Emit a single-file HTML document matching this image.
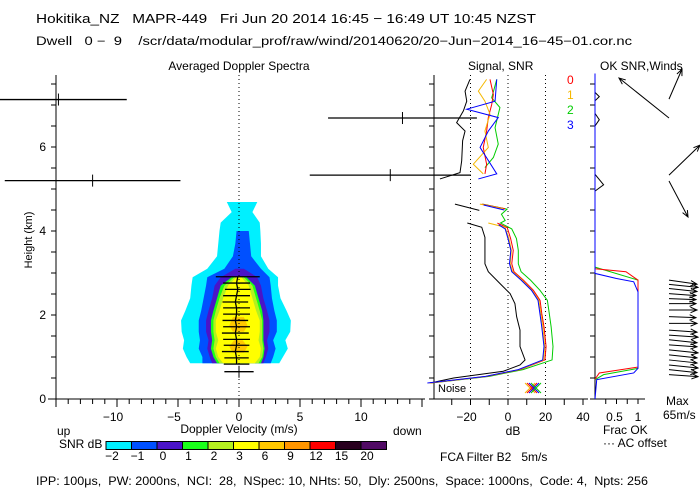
<!DOCTYPE html>
<html><head><meta charset="utf-8"><style>
html,body{margin:0;padding:0;background:#fff;}
svg{display:block;font-family:"Liberation Sans",sans-serif;}
text{font-size:12px;fill:#000;white-space:pre;}
</style></head><body>
<svg id="chart" width="700" height="500" viewBox="0 0 700 500" xmlns="http://www.w3.org/2000/svg" xml:space="preserve">
<rect width="700" height="500" fill="#fff"/>
<text x="36" y="23" textLength="500" lengthAdjust="spacingAndGlyphs" style="font-size:13px">Hokitika_NZ   MAPR-449   Fri Jun 20 2014 16:45 − 16:49 UT 10:45 NZST</text>
<text x="36" y="45" textLength="596" lengthAdjust="spacingAndGlyphs" style="font-size:11.5px">Dwell   0 −  9    /scr/data/modular_prof/raw/wind/20140620/20−Jun−2014_16−45−01.cor.nc</text>
<text x="239" y="70" text-anchor="middle">Averaged Doppler Spectra</text>
<text x="468" y="70">Signal, SNR</text>
<text x="600" y="70">OK SNR,Winds</text>
<text transform="translate(32,240) rotate(-90)" text-anchor="middle" style="font-size:11px">Height (km)</text>
<g id="spec"></g>
<g id="snr"></g>
<g id="wind"></g>
<text x="57" y="435">up</text>
<text x="239" y="433" text-anchor="middle">Doppler Velocity (m/s)</text>
<text x="393" y="435">down</text>
<text x="513" y="435" text-anchor="middle">dB</text>
<text x="603" y="434">Frac OK</text>
<text x="603" y="447">··· AC offset</text>
<text x="666" y="405">Max</text>
<text x="663" y="419">65m/s</text>
<text x="59" y="448">SNR dB</text>
<g id="cbar"></g>
<text x="440" y="461">FCA Filter B2   5m/s</text>
<text x="567" y="84" style="fill:#f00">0</text>
<text x="567" y="99" style="fill:#f5b800">1</text>
<text x="567" y="114" style="fill:#0c0">2</text>
<text x="567" y="129" style="fill:#00f">3</text>
<text x="438" y="392" style="font-size:11px">Noise</text>
<text x="36" y="485" textLength="612" lengthAdjust="spacingAndGlyphs" style="font-size:11.5px">IPP: 100μs,  PW: 2000ns,  NCI:  28,  NSpec: 10, NHts: 50,  Dly: 2500ns,  Space: 1000ns,  Code: 4,  Npts: 256</text>
</svg>
<script>
// ---------- data ----------
const specHeights = [0.85,1.0,1.2,1.4,1.6,1.87,2.1,2.4,2.7,2.9,3.1,3.4,3.7,4.0,4.2,4.45,4.69];
const cyanLo   = [-4.0,-4.3,-4.6,-4.5,-4.7,-4.75,-4.4,-4.0,-3.9,-3.8,-2.6,-1.8,-1.7,-1.6,-1.5,-0.6,-1.0];
const cyanHi   = [3.3,3.6,4.0,3.8,4.2,4.25,3.9,3.4,3.2,3.2,2.4,1.8,1.8,1.75,1.7,1.1,1.5];
const blueLo   = [-3.0,-3.0,-3.3,-3.2,-3.3,-3.3,-3.1,-2.9,-2.7,-2.6,-1.2,-0.5,-0.3,-0.2];
const blueHi   = [2.6,2.8,3.0,2.8,3.1,3.1,2.9,2.7,2.6,2.5,1.8,1.0,0.9,0.8];
const purpLo   = [-2.2,-2.4,-2.6,-2.5,-2.7,-2.7,-2.5,-2.2,-2.0,-1.5,-0.3];
const purpHi   = [2.0,2.2,2.4,2.3,2.5,2.5,2.3,2.0,1.8,1.5,0.4];
const greenLo  = [-1.8,-2.1,-2.3,-2.2,-2.3,-2.3,-2.1,-1.8,-1.5,-0.6];
const greenHi  = [1.8,2.0,2.1,2.0,2.0,2.0,1.9,1.6,1.3,0.6];
const lgreenLo = [-1.6,-1.9,-2.1,-2.0,-2.1,-2.1,-1.9,-1.6,-1.2,-0.4];
const lgreenHi = [1.6,1.9,2.0,1.9,1.9,1.9,1.7,1.4,1.1,0.4];
const yellowLo = [-1.3,-1.7,-1.9,-1.7,-1.9,-1.9,-1.6,-1.3,-0.9,-0.2];
const yellowHi = [1.3,1.7,1.8,1.6,1.7,1.7,1.4,1.1,0.8,0.2];
const orangeH  = [1.1,1.25,1.4,1.6,1.75,1.95];
const orangeLo = [-0.5,-0.8,-0.4,-0.5,-0.8,-0.5];
const orangeHi = [0.4,0.7,0.3,0.4,0.7,0.4];
const barH   = [0.65,0.83,0.98,1.13,1.28,1.42,1.57,1.72,1.87,2.02,2.17,2.31,2.46,2.61,2.76,2.91,5.2,7.13,6.69,5.33];
const barV   = [0.0,-0.2,-0.2,-0.3,-0.2,-0.2,-0.3,-0.2,-0.3,-0.2,-0.2,-0.3,-0.2,-0.1,-0.2,-0.1,-12.0,-14.8,13.4,12.4];
const barW   = [1.2,1.05,1.0,1.1,1.05,1.1,1.1,1.1,1.05,1.1,1.1,1.05,1.1,1.05,1.1,1.8,7.2,5.6,6.1,6.6];

const blackSeg1 = [[7.61,-20.3],[7.33,-22.9],[7.09,-22.0],[6.86,-23.8],[6.58,-27.4],[6.38,-22.9],[6.15,-24.2],[5.67,-24.7],[5.39,-25.6],[5.24,-36.3]];
const blackSeg2 = [[4.64,-28.3],[4.49,-15.3]];
const blackSeg3 = [[4.19,-21.7],[4.09,-14.0],[3.85,-12.3],[3.22,-12.3],[3.03,-10.5],[2.75,-4.3],[2.51,1.1],[2.27,3.7],[1.96,4.6],[1.64,6.4],[1.25,6.4],[0.93,9.1],[0.81,6.4],[0.66,-2.5],[0.50,-29],[0.38,-41.6]];
const redUp    = [[7.61,-9.6],[7.25,-7.8],[7.01,-8.7],[6.70,-10.5],[6.38,-11.4],[5.99,-13.2],[5.59,-11.4],[5.36,-12.3]];
const orangeUp = [[7.61,-11.4],[7.33,-15.8],[7.09,-12.3],[6.78,-9.6],[6.38,-12.3],[5.99,-10.5],[5.59,-18.5],[5.36,-13.2]];
const greenUp  = [[7.61,-6.0],[7.17,-8.7],[6.94,-4.3],[6.46,-6.9],[6.07,-5.2],[5.75,-7.8],[5.51,-12.3]];
const blueUp   = [[7.61,-6.0],[7.09,-6.9],[6.90,-22],[6.70,-5.2],[6.38,-10.5],[5.99,-14.9],[5.36,-6.0],[5.24,-15.8]];
const redA = [[4.64,-14.0],[4.53,-1.6]];
const orangeA = [[4.64,-15],[4.53,-2.5]];
const blueA = [[4.62,-13],[4.5,-2]];
const redLow    = [[4.19,-5.7],[4.08,-0.4],[3.82,1.4],[3.54,2.8],[3.22,2.0],[3.03,3.2],[2.83,8.2],[2.59,13.5],[2.35,17.1],[2.04,18.0],[1.72,19.2],[1.25,20.3],[0.93,19.7],[0.70,6.4],[0.54,-11.4],[0.38,-41.6]];
const orangeLow = [[4.19,-10.5],[4.09,-1.6],[3.82,0.5],[3.54,1.8],[3.22,1.2],[3.03,2.5],[2.83,7.6],[2.59,12.8],[2.35,16.5],[2.04,17.5],[1.72,18.6],[1.25,19.6],[0.93,19.0],[0.70,6.0],[0.54,-11.8],[0.38,-42]];
const blueLow   = [[4.15,-5],[4.05,-1.5],[3.82,0],[3.54,1.5],[3.22,0.8],[3.03,2.0],[2.83,7.0],[2.59,12.5],[2.35,16.0],[2.04,17.0],[1.72,18.0],[1.25,19.2],[0.93,18.5],[0.70,5.5],[0.54,-12],[0.38,-43]];
const greenLow  = [[4.64,-13.5],[4.52,-0.5],[4.40,-3.5],[4.25,-1.5],[4.19,-4],[4.05,2],[3.82,4.5],[3.54,5.5],[3.22,5.5],[3.03,7],[2.83,12],[2.59,17],[2.35,21],[2.04,22],[1.72,23],[1.25,24],[0.93,23.5],[0.70,8],[0.54,-10],[0.38,-41]];

const fracBlack = [[7.75,0],[7.3,0],[7.2,0.1],[7.1,0],[6.8,0],[6.65,0.1],[6.5,0],[5.35,0],[5.1,0.2],[4.95,0]];
const fracGreen = [[3.14,0],[2.83,1],[0.73,1],[0.58,0.2],[0.46,0]];
const fracRed   = [[3.10,0],[3.03,0.72],[2.83,1],[0.76,1],[0.62,0.1],[0.47,0]];
const fracBlue  = [[7.75,0],[2.99,0],[2.87,0.5],[2.79,0.9],[2.55,1],[0.73,1],[0.62,0.9],[0.46,0.04],[0.0,0]];
const windH = [7.14,6.69,5.33,5.19,2.83,2.73,2.63,2.51,2.39,2.27,2.12,1.96,1.80,1.64,1.52,1.41,1.29,1.17,1.05,0.93,0.81,0.70,0.58];
const windU = [13,-50,31,19,28,29,28,27,27,27,28,27,28,28,29,28,28,29,28,28,29,28,29];
const windV = [30,40,30,-36,-4,-3,-3,-2,-1,0,0,-1,0,-2,-2,-3,-2,-3,-3,-3,-3,-3,-2];

const cbarColors = ["#00f0ff","#0050ff","#4a14c8","#1aff1a","#b4f020","#ffff00","#ffc800","#ff9600","#ff0000","#28001e","#500a64"];
const cbarLabels = ["−2","−1","0","1","2","3","6","9","12","15","20"];
const vTickLabels = [-10,-5,0,5,10];
const hTickLabels = [0,2,4,6];
const dbTickLabels = [-20,0,20,40];

// ---------- scales ----------
const NS="http://www.w3.org/2000/svg";
const xv=v=>239+12.2*v, yh=h=>399-42*h, xdb=d=>508+1.875*d, xf=f=>595+43*f;
function mk(parent,tag,attrs){const e=document.createElementNS(NS,tag);for(const k in attrs)e.setAttribute(k,attrs[k]);parent.appendChild(e);return e;}
const spec=document.getElementById('spec'), snr=document.getElementById('snr'), wind=document.getElementById('wind'), cbar=document.getElementById('cbar');

function level(lo,hi,hs,color,name){
  const n=lo.length;let pts=[];
  for(let i=0;i<n;i++)pts.push(xv(hi[i])+','+yh(hs[i]));
  for(let i=n-1;i>=0;i--)pts.push(xv(lo[i])+','+yh(hs[i]));
  const p=mk(spec,'polygon',{points:pts.join(' '),fill:color});
  
  
}
level(cyanLo,cyanHi,specHeights,cbarColors[0],'snr-contour-minus2');
level(blueLo,blueHi,specHeights,cbarColors[1],'snr-contour-minus1');
level(purpLo,purpHi,specHeights,cbarColors[2],'snr-contour-0');
level(greenLo,greenHi,specHeights,cbarColors[3],'snr-contour-1');
level(lgreenLo,lgreenHi,specHeights,cbarColors[4],'snr-contour-2');
level(yellowLo,yellowHi,specHeights,cbarColors[5],'snr-contour-3');
level(orangeLo.slice(0,3),orangeHi.slice(0,3),orangeH.slice(0,3),cbarColors[6],'snr-contour-6-low');
level(orangeLo.slice(3),orangeHi.slice(3),orangeH.slice(3),cbarColors[6],'snr-contour-6-high');

let zl=mk(spec,'line',{x1:xv(0),y1:75,x2:xv(0),y2:399,stroke:'#000','stroke-dasharray':'1,3'});


let mp=[];for(let i=1;i<16;i++)mp.push(xv(barV[i])+','+yh(barH[i]));
let ml=mk(spec,'polyline',{points:mp.join(' '),fill:'none',stroke:'#000','stroke-width':1.3});


for(let i=0;i<barH.length;i++){
  const g=mk(spec,'g',{});
  
  
  const y=yh(barH[i]);
  mk(g,'line',{x1:xv(barV[i]-barW[i]),x2:xv(barV[i]+barW[i]),y1:y,y2:y,stroke:'#000','stroke-width':1.3});
  if(i==0||i>=16) mk(g,'line',{x1:xv(barV[i]),x2:xv(barV[i]),y1:y-6,y2:y+6,stroke:'#000'});
}
mk(spec,'line',{x1:56,y1:75,x2:56,y2:399,stroke:'#000'});
mk(spec,'line',{x1:48,y1:399,x2:425,y2:399,stroke:'#000'});
for(let k=0;k<=15;k++){const y=yh(k*0.5);mk(spec,'line',{x1:51,x2:56,y1:y,y2:y,stroke:'#000'});
  mk(snr,'line',{x1:429,x2:434,y1:y,y2:y,stroke:'#000'});mk(wind,'line',{x1:590,x2:595,y1:y,y2:y,stroke:'#000'});}
for(const h of hTickLabels){const t=mk(spec,'text',{x:46,y:yh(h)+4,'text-anchor':'end'});t.textContent=h;
  
  }
for(let v=-15;v<=15;v++){const x=xv(v);if(x<48||x>425)continue;mk(spec,'line',{x1:x,x2:x,y1:399,y2:v%5==0?407:404,stroke:'#000'});}
for(const v of vTickLabels){const t=mk(spec,'text',{x:xv(v)+(v<0?-4:0),y:421,'text-anchor':'middle'});t.textContent=v<0?'−'+(-v):v;
  
  }

for(const d of [-20,0,20]){let l=mk(snr,'line',{x1:xdb(d),x2:xdb(d),y1:75,y2:399,stroke:'#000','stroke-dasharray':'1,3'});
  
  }
mk(snr,'line',{x1:434,y1:75,x2:434,y2:399,stroke:'#000'});
mk(snr,'line',{x1:433,y1:399,x2:588,y2:399,stroke:'#000'});
for(let d=-30;d<=40;d+=10)mk(snr,'line',{x1:xdb(d),x2:xdb(d),y1:399,y2:405,stroke:'#000'});
for(const d of dbTickLabels){const t=mk(snr,'text',{x:xdb(d)+(d<0?-4:0),y:421,'text-anchor':'middle'});t.textContent=d<0?'−'+(-d):d;
  
  }
function series(g,arr,color,name,xf_){const p=mk(g,'polyline',{points:arr.map(a=>xf_(a[1])+','+yh(a[0])).join(' '),fill:'none',stroke:color,'stroke-width':1});
  
  }
series(snr,blackSeg1,'#000','signal-line',xdb);series(snr,blackSeg2,'#000','signal-line',xdb);series(snr,blackSeg3,'#000','signal-line',xdb);
series(snr,greenUp,'#0c0','snr-beam-2',xdb);series(snr,greenLow,'#0c0','snr-beam-2',xdb);
series(snr,redUp,'#f00','snr-beam-0',xdb);series(snr,redA,'#f00','snr-beam-0',xdb);series(snr,redLow,'#f00','snr-beam-0',xdb);
series(snr,orangeUp,'#f5b800','snr-beam-1',xdb);series(snr,orangeA,'#f5b800','snr-beam-1',xdb);series(snr,orangeLow,'#f5b800','snr-beam-1',xdb);
series(snr,blueUp,'#00f','snr-beam-3',xdb);series(snr,blueA,'#00f','snr-beam-3',xdb);series(snr,blueLow,'#00f','snr-beam-3',xdb);
[['#f5b800',-3],['#f00',-1],['#00f',1],['#0c0',3]].forEach(c=>{const x=533+c[1],y=388;
  const p=mk(snr,'path',{d:`M${x-5},${y-5}L${x+5},${y+5}M${x-5},${y+5}L${x+5},${y-5}`,stroke:c[0],fill:'none'});
  
  });

mk(wind,'line',{x1:595,y1:75,x2:595,y2:399,stroke:'#000'});
mk(wind,'line',{x1:590,y1:399,x2:645,y2:399,stroke:'#000'});
for(let f=0.25;f<=1;f+=0.25)mk(wind,'line',{x1:xf(f),x2:xf(f),y1:399,y2:404,stroke:'#000'});
[['0.5',0.5],['1',1]].forEach(a=>{const t=mk(wind,'text',{x:xf(a[1])-(a[1]==0.5?2:0),y:421,'text-anchor':'middle'});t.textContent=a[0];
  
  });
series(wind,fracBlack,'#000','frac-ok-black',xf);
series(wind,fracGreen,'#0c0','frac-ok-beam-2',xf);
series(wind,fracRed,'#f00','frac-ok-beam-0',xf);
series(wind,fracBlue,'#00f','frac-ok-beam-3',xf);
for(let i=0;i<windH.length;i++){
  const x0=669,y0=yh(windH[i]),x1=x0+windU[i],y1=y0-windV[i];
  const a=Math.atan2(y1-y0,x1-x0),L=7;
  const g=mk(wind,'g',{});
  
  
  mk(g,'path',{d:`M${x0},${y0}L${x1},${y1}M${x1-L*Math.cos(a-0.4)},${y1-L*Math.sin(a-0.4)}L${x1},${y1}L${x1-L*Math.cos(a+0.4)},${y1-L*Math.sin(a+0.4)}`,stroke:'#000',fill:'none'});
}

for(let i=0;i<cbarColors.length;i++){
  const x=106+i*25.5;
  const r=mk(cbar,'rect',{x:x,y:441.5,width:25.5,height:8,fill:cbarColors[i],stroke:'#000','stroke-width':1});
  
  
  const t=mk(cbar,'text',{x:x+6,y:460,'text-anchor':'middle'});t.textContent=cbarLabels[i];
  
  
}
</script>
</body></html>
